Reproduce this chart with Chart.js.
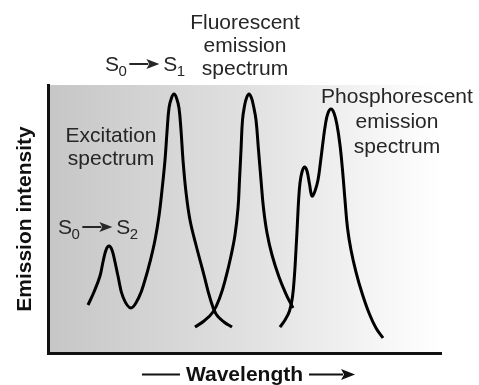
<!DOCTYPE html>
<html>
<head>
<meta charset="utf-8">
<script src="https://cdn.jsdelivr.net/npm/chart.js@4"></script>
<style>
  html, body { margin: 0; padding: 0; background: #fff; }
  canvas { display: block; }
</style>
</head>
<body>
<canvas id="spectra" width="479" height="385"></canvas>
<script>
// Wavelength / intensity pairs, arbitrary units on a 0-100 scale
const excitationWl = [10.18, 11.70, 13.23, 13.99, 14.76, 15.52, 16.28, 17.05, 17.81, 19.08, 21.12, 23.16, 24.68, 25.95, 27.23, 28.24, 29.01, 29.77, 30.28, 30.79, 31.42, 32.06, 32.70, 33.33, 33.84, 34.35, 35.11, 36.13, 37.66, 39.69, 41.22, 42.75, 44.78, 46.82];
const excitationInt = [17.91, 22.76, 28.73, 33.96, 38.43, 39.93, 38.43, 33.96, 28.73, 20.90, 16.79, 20.90, 27.24, 33.96, 42.16, 51.12, 60.82, 72.01, 82.46, 91.42, 95.15, 96.64, 95.15, 91.42, 83.21, 72.01, 60.07, 49.63, 40.30, 29.10, 20.52, 14.55, 11.57, 9.70];

const fluorescenceWl = [37.40, 39.69, 41.98, 43.77, 45.29, 46.56, 47.58, 48.35, 48.73, 49.11, 49.49, 50.00, 50.51, 51.15, 51.78, 52.29, 52.93, 53.56, 54.20, 54.83, 55.73, 57.00, 58.78, 60.56, 62.34];
const fluorescenceInt = [9.70, 11.94, 15.30, 20.90, 28.36, 36.19, 44.03, 54.10, 64.55, 75.75, 86.94, 92.16, 95.15, 96.64, 95.15, 92.16, 86.94, 75.75, 64.55, 54.10, 44.78, 36.57, 28.36, 22.01, 16.79];

const phosphorescenceWl = [59.03, 60.31, 61.45, 62.21, 62.72, 63.10, 63.44, 63.77, 64.12, 64.63, 65.27, 65.90, 66.54, 67.18, 67.94, 68.70, 69.34, 69.97, 70.61, 71.25, 72.01, 72.77, 73.54, 74.30, 74.94, 75.57, 76.21, 77.10, 78.37, 79.90, 81.68, 83.46, 85.24];
const phosphorescenceInt = [9.70, 12.31, 15.67, 20.90, 29.10, 38.43, 47.76, 57.09, 63.43, 67.54, 69.40, 67.91, 63.06, 58.58, 60.45, 64.55, 71.27, 78.73, 85.45, 89.55, 91.04, 89.55, 85.07, 77.61, 68.28, 57.09, 46.64, 38.43, 30.22, 22.39, 14.93, 9.33, 5.60];

const toPoints = (xs, ys) => xs.map((x, i) => ({ x, y: ys[i] }));

const FONT = '"Liberation Sans", Arial, Helvetica, sans-serif';
const INK = '#262626';

function arrow(ctx, x1, y, x2, head, spread) {
  ctx.beginPath();
  ctx.moveTo(x1, y);
  ctx.lineTo(x2 - head + 2, y);
  ctx.stroke();
  ctx.beginPath();
  ctx.moveTo(x2, y);
  ctx.lineTo(x2 - head, y - spread);
  ctx.lineTo(x2 - head + 3, y);
  ctx.lineTo(x2 - head, y + spread);
  ctx.closePath();
  ctx.fill();
}

// "S0 -> Sn" transition label
function transition(ctx, x, y, lo, hi) {
  ctx.textAlign = 'left';
  ctx.font = '21px ' + FONT;
  ctx.fillText('S', x, y);
  x += 13.5;
  ctx.font = '15px ' + FONT;
  ctx.fillText(lo, x, y + 5);
  x += ctx.measureText(lo).width + 2.5;
  arrow(ctx, x, y - 7, x + 30, 13, 5);
  x += 34;
  ctx.font = '21px ' + FONT;
  ctx.fillText('S', x, y);
  x += 13.5;
  ctx.font = '15px ' + FONT;
  ctx.fillText(hi, x, y + 5);
}

const backdrop = {
  id: 'backdrop',
  beforeDraw(chart) {
    const { ctx, chartArea: a } = chart;
    const g = ctx.createLinearGradient(a.left, 0, a.right, 0);
    g.addColorStop(0, '#c6c6c6');
    g.addColorStop(0.5, '#e0e0e0');
    g.addColorStop(0.88, '#f8f8f8');
    g.addColorStop(1, '#ffffff');
    ctx.save();
    ctx.fillStyle = g;
    ctx.fillRect(a.left, a.top, a.right - a.left, a.bottom - a.top);
    ctx.restore();
  }
};

const annotations = {
  id: 'annotations',
  afterDraw(chart) {
    const { ctx, chartArea: a } = chart;
    ctx.save();
    ctx.fillStyle = INK;
    ctx.strokeStyle = INK;
    ctx.lineWidth = 2;
    ctx.textBaseline = 'alphabetic';

    ctx.font = '21px ' + FONT;
    ctx.textAlign = 'center';
    const block = (lines, x, y, step) => lines.forEach((t, i) => ctx.fillText(t, x, y + i * step));
    block(['Fluorescent', 'emission', 'spectrum'], 245, 29, 23);
    block(['Excitation', 'spectrum'], 111, 142, 23);
    block(['Phosphorescent', 'emission', 'spectrum'], 397, 103, 25);

    transition(ctx, 105, 71, '0', '1');
    transition(ctx, 58, 234, '0', '2');

    // axis titles
    ctx.fillStyle = '#111';
    ctx.strokeStyle = '#111';
    ctx.font = 'bold 21px ' + FONT;
    ctx.textAlign = 'center';
    const cx = (a.left + a.right) / 2;
    ctx.fillText('Wavelength', cx, 381);
    const half = ctx.measureText('Wavelength').width / 2;
    ctx.beginPath();
    ctx.moveTo(cx - half - 44, 374.5);
    ctx.lineTo(cx - half - 6, 374.5);
    ctx.stroke();
    arrow(ctx, cx + half + 6, 374.5, cx + half + 52, 14, 5.5);

    ctx.translate(31, (a.top + a.bottom) / 2);
    ctx.rotate(-Math.PI / 2);
    ctx.fillText('Emission intensity', 0, 0);
    ctx.restore();
  }
};

const curve = (xs, ys) => ({
  data: toPoints(xs, ys),
  showLine: true,
  borderColor: '#000',
  borderWidth: 3,
  borderJoinStyle: 'round',
  pointRadius: 0,
  fill: false,
  tension: 0.4
});

const axis = {
  type: 'linear',
  min: 0,
  max: 100,
  ticks: { display: false },
  grid: { display: false, drawTicks: false },
  border: { display: true, color: '#111', width: 3 }
};

new Chart(document.getElementById('spectra'), {
  type: 'scatter',
  data: {
    datasets: [
      curve(excitationWl, excitationInt),
      curve(fluorescenceWl, fluorescenceInt),
      curve(phosphorescenceWl, phosphorescenceInt)
    ]
  },
  options: {
    responsive: false,
    animation: false,
    devicePixelRatio: 1,
    layout: { padding: { left: 48, top: 85, right: 38, bottom: 32 } },
    plugins: { legend: { display: false }, tooltip: { enabled: false } },
    scales: { x: axis, y: axis }
  },
  plugins: [backdrop, annotations]
});
</script>
</body>
</html>
